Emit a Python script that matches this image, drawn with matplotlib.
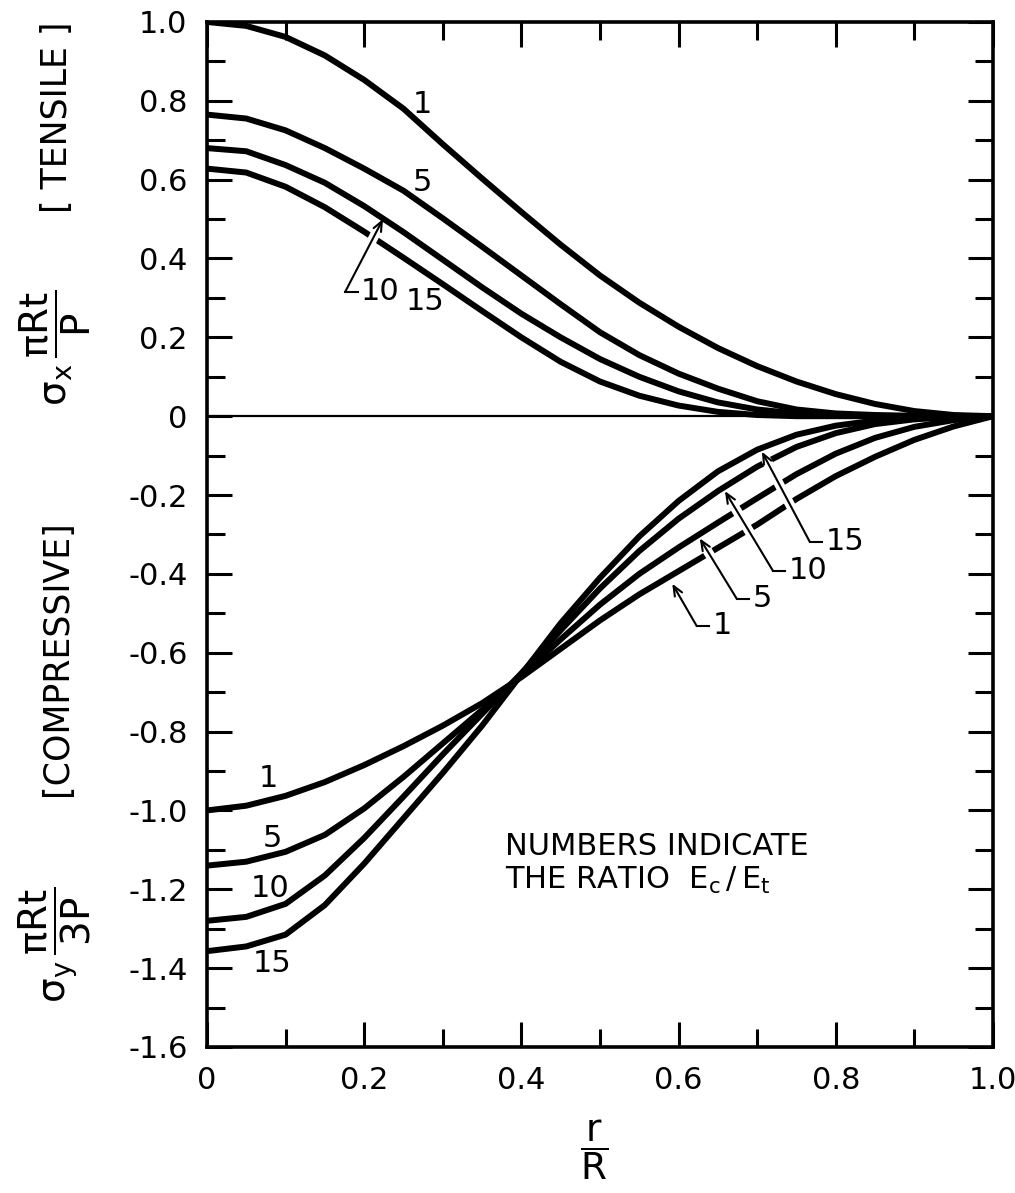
import numpy as np
import matplotlib
matplotlib.use('Agg')
import matplotlib.pyplot as plt
from matplotlib.ticker import MultipleLocator

plt.rcParams['font.family'] = ['DejaVu Sans']
plt.rcParams['mathtext.fontset'] = 'dejavusans'
plt.rcParams['axes.unicode_minus'] = False

R_RATIO = [0.0, 0.05, 0.1, 0.15, 0.2, 0.25, 0.3, 0.35, 0.4, 0.45, 0.5,
           0.55, 0.6, 0.65, 0.7, 0.75, 0.8, 0.85, 0.9, 0.95, 1.0]
EC_ET = ['1', '5', '10', '15']

# tensile, sigma_x * pi R t / P
SX_1 = [1.0, 0.99, 0.962, 0.915, 0.853, 0.78, 0.69, 0.603, 0.518, 0.435, 0.357,
        0.288, 0.227, 0.173, 0.127, 0.088, 0.056, 0.031, 0.013, 0.003, 0.0]
SX_5 = [0.765, 0.755, 0.725, 0.68, 0.628, 0.572, 0.502, 0.43, 0.357, 0.284, 0.213,
        0.155, 0.108, 0.07, 0.038, 0.017, 0.007, 0.003, 0.001, 0.0, 0.0]
SX_10 = [0.68, 0.672, 0.637, 0.592, 0.533, 0.467, 0.397, 0.327, 0.26, 0.2, 0.145,
         0.1, 0.063, 0.035, 0.017, 0.007, 0.002, 0.0, 0.0, 0.0, 0.0]
SX_15 = [0.628, 0.618, 0.582, 0.53, 0.468, 0.402, 0.335, 0.267, 0.2, 0.138, 0.088,
         0.052, 0.027, 0.011, 0.003, 0.0, 0.0, 0.0, 0.0, 0.0, 0.0]

# compressive, sigma_y * pi R t / 3P
SY_1 = [-1.0, -0.988, -0.963, -0.928, -0.885, -0.837, -0.785, -0.728, -0.662, -0.59, -0.518,
        -0.452, -0.393, -0.334, -0.275, -0.21, -0.152, -0.103, -0.06, -0.026, 0.0]
SY_5 = [-1.14, -1.13, -1.105, -1.062, -0.995, -0.915, -0.83, -0.745, -0.658, -0.566, -0.478,
        -0.4, -0.333, -0.27, -0.208, -0.147, -0.095, -0.055, -0.027, -0.01, 0.0]
SY_10 = [-1.28, -1.27, -1.237, -1.165, -1.07, -0.965, -0.858, -0.755, -0.652, -0.543, -0.437,
         -0.342, -0.26, -0.19, -0.128, -0.078, -0.043, -0.02, -0.008, -0.002, 0.0]
SY_15 = [-1.357, -1.345, -1.315, -1.24, -1.135, -1.02, -0.905, -0.785, -0.655, -0.525, -0.41,
         -0.305, -0.215, -0.14, -0.085, -0.047, -0.024, -0.011, -0.004, -0.001, 0.0]

X_TICKS = [0.0, 0.2, 0.4, 0.6, 0.8, 1.0]
X_TICK_LABELS = ['0', '0.2', '0.4', '0.6', '0.8', '1.0']
Y_TICKS = [-1.6, -1.4, -1.2, -1.0, -0.8, -0.6, -0.4, -0.2, 0.0, 0.2, 0.4, 0.6, 0.8, 1.0]
Y_TICK_LABELS = ['-1.6', '-1.4', '-1.2', '-1.0', '-0.8', '-0.6', '-0.4', '-0.2',
                 '0', '0.2', '0.4', '0.6', '0.8', '1.0']

LW = 4.3
FS = 22

fig = plt.figure(figsize=(10.15, 11.93), dpi=100)
ax = fig.add_axes([0.2039, 0.1224, 0.7744, 0.8592])

for ys in [SX_1, SX_5, SX_10, SX_15, SY_1, SY_5, SY_10, SY_15]:
    ax.plot(R_RATIO, ys, color='black', lw=LW, solid_capstyle='butt',
            solid_joinstyle='round', zorder=2)
ax.axhline(0, color='black', lw=1.6, zorder=1)

ax.set_xlim(0, 1.0)
ax.set_ylim(-1.6, 1.0)
ax.set_xticks(X_TICKS)
ax.set_xticklabels(X_TICK_LABELS)
ax.set_yticks(Y_TICKS)
ax.set_yticklabels(Y_TICK_LABELS)
ax.xaxis.set_minor_locator(MultipleLocator(0.1))
ax.yaxis.set_minor_locator(MultipleLocator(0.1))
ax.tick_params(which='both', direction='in', top=True, right=True,
               width=2.2, labelsize=FS, pad=14)
ax.tick_params(which='major', length=18)
ax.tick_params(which='minor', length=13)
for sp in ax.spines.values():
    sp.set_linewidth(2.6)


def leader(tip, corner, label, txt_dx=0.004):
    # white halo first so the leader breaks the curves it crosses
    ax.annotate('', xy=tip, xytext=corner, zorder=4,
                arrowprops=dict(arrowstyle='-', lw=7, color='white',
                                shrinkA=0, shrinkB=7))
    ax.annotate('', xy=tip, xytext=corner, zorder=5,
                arrowprops=dict(arrowstyle='->,head_length=0.7,head_width=0.3',
                                lw=1.5, color='black', shrinkA=0, shrinkB=0))
    ax.plot([corner[0], corner[0] + 0.016], [corner[1], corner[1]],
            color='black', lw=1.5, zorder=5)
    ax.text(corner[0] + 0.016 + txt_dx, corner[1], label, fontsize=FS,
            ha='left', va='center', zorder=6)


# tensile labels
ax.text(0.274, 0.79, EC_ET[0], fontsize=FS, ha='center', va='center')
ax.text(0.274, 0.592, EC_ET[1], fontsize=FS, ha='center', va='center')
ax.text(0.277, 0.291, EC_ET[3], fontsize=FS, ha='center', va='center')
leader((0.224, 0.5), (0.176, 0.316), EC_ET[2])

# compressive labels, left end
ax.text(0.078, -0.919, EC_ET[0], fontsize=FS, ha='center', va='center')
ax.text(0.083, -1.071, EC_ET[1], fontsize=FS, ha='center', va='center')
ax.text(0.080, -1.197, EC_ET[2], fontsize=FS, ha='center', va='center')
ax.text(0.083, -1.387, EC_ET[3], fontsize=FS, ha='center', va='center')

# compressive labels, right side leaders
leader((0.592, -0.425), (0.623, -0.532), EC_ET[0])
leader((0.627, -0.31), (0.674, -0.463), EC_ET[1])
leader((0.659, -0.19), (0.720, -0.392), EC_ET[2])
leader((0.706, -0.09), (0.767, -0.319), EC_ET[3])

ax.text(0.379, -1.091, 'NUMBERS INDICATE', fontsize=FS, ha='left', va='center')
ax.text(0.379, -1.177, r'THE RATIO  $\mathrm{E_c\,/\,E_t}$', fontsize=FS,
        ha='left', va='center')

# axis titles
fig.text(57 / 1015, 1 - 117 / 1193, '[ TENSILE ]', rotation=90, fontsize=25,
         ha='center', va='center')
fig.text(55 / 1015, 1 - 348 / 1193,
         r'$\mathrm{\sigma_x}\,\dfrac{\mathrm{\pi Rt}}{\mathrm{P}}$',
         rotation=90, fontsize=28, ha='center', va='center')
fig.text(57 / 1015, 1 - 658 / 1193, '[COMPRESSIVE]', rotation=90, fontsize=25,
         ha='center', va='center')
fig.text(55 / 1015, 1 - 945 / 1193,
         r'$\mathrm{\sigma_y}\,\dfrac{\mathrm{\pi Rt}}{\mathrm{3P}}$',
         rotation=90, fontsize=28, ha='center', va='center')
fig.text(594 / 1015, 1 - 1150 / 1193, r'$\dfrac{\mathrm{r}}{\mathrm{R}}$',
         fontsize=27, ha='center', va='center')

fig.savefig('out.png', dpi=100, facecolor='white')
